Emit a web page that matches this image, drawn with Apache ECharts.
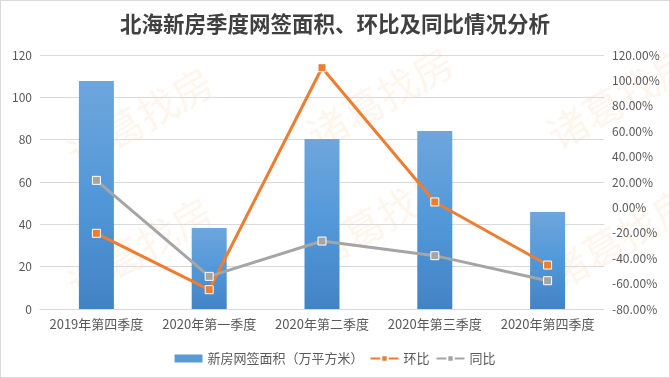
<!DOCTYPE html>
<html>
<head>
<meta charset="utf-8">
<script src="https://cdn.jsdelivr.net/npm/echarts@6/dist/echarts.min.js"></script>
<style>
html, body { margin: 0; padding: 0; background: #fff; }
#chart { width: 668px; height: 376px; border: 1px solid #d9d9d9; }
</style>
</head>
<body>
<div id="chart"></div>
<script>
// data
const quarters = ['2019年第四季度', '2020年第一季度', '2020年第二季度', '2020年第三季度', '2020年第四季度'];
const area = [107.7, 38.3, 80.3, 84.1, 45.8];
const qoq = [-20.4, -64.8, 110.0, 4.3, -45.4];
const yoy = [21.3, -54.3, -26.5, -38.0, -57.7];

const font = '"Microsoft YaHei", "Noto Sans CJK SC", sans-serif';
const labelColor = '#595959';

// faint watermark
const marks = [[60, 60], [60, 190], [300, 40], [300, 160], [540, 40], [540, 180]].map(p => ({
    type: 'text',
    left: p[0],
    top: p[1],
    rotation: Math.PI / 6,
    silent: true,
    z: -1,
    style: {text: '诸葛找房', fill: 'rgba(250,190,140,0.16)', font: '40px ' + font}
}));

const chart = echarts.init(document.getElementById('chart'));
chart.setOption({
    animation: false,
    title: {
        text: '北海新房季度网签面积、环比及同比情况分析',
        left: 'center',
        top: 7,
        textStyle: {fontSize: 21.5, fontWeight: 'bold', color: '#404040', fontFamily: font}
    },
    graphic: marks,
    grid: {left: 39, right: 65, top: 54, bottom: 68},
    legend: {
        bottom: 7,
        itemGap: 6,
        textStyle: {fontSize: 13, color: labelColor, fontFamily: font},
        data: [
            {name: '新房网签面积（万平方米）', icon: 'rect', itemStyle: {color: '#5b9bd5'}},
            {name: '环比'},
            {name: '同比'}
        ],
        itemWidth: 28,
        itemHeight: 8
    },
    xAxis: {
        type: 'category',
        data: quarters,
        axisTick: {show: false},
        axisLine: {lineStyle: {color: '#d9d9d9'}},
        axisLabel: {color: labelColor, fontSize: 13, fontFamily: font, margin: 9, interval: 0}
    },
    yAxis: [
        {
            type: 'value',
            min: 0, max: 120, interval: 20,
            axisLabel: {color: labelColor, fontSize: 12, fontFamily: font, margin: 8},
            splitLine: {lineStyle: {color: '#d9d9d9'}}
        },
        {
            type: 'value',
            min: -80, max: 120, interval: 20,
            axisLabel: {
                color: labelColor, fontSize: 12, fontFamily: font, margin: 8,
                formatter: v => v.toFixed(2) + '%'
            },
            splitLine: {show: false}
        }
    ],
    series: [
        {
            name: '新房网签面积（万平方米）',
            type: 'bar',
            data: area,
            barWidth: 35,
            itemStyle: {
                color: new echarts.graphic.LinearGradient(0, 0, 0, 1, [
                    {offset: 0, color: '#6ea6dc'},
                    {offset: 0.5, color: '#5298d9'},
                    {offset: 1, color: '#4383c4'}
                ])
            }
        },
        {
            name: '环比',
            type: 'line',
            yAxisIndex: 1,
            data: qoq,
            symbol: 'rect',
            symbolSize: 8,
            lineStyle: {color: '#ed7d31', width: 3},
            itemStyle: {color: '#ed7d31', borderColor: '#fff', borderWidth: 1}
        },
        {
            name: '同比',
            type: 'line',
            yAxisIndex: 1,
            data: yoy,
            symbol: 'rect',
            symbolSize: 8,
            lineStyle: {color: '#a5a5a5', width: 3},
            itemStyle: {color: '#a5a5a5', borderColor: '#fff', borderWidth: 1}
        }
    ]
});
</script>
</body>
</html>
